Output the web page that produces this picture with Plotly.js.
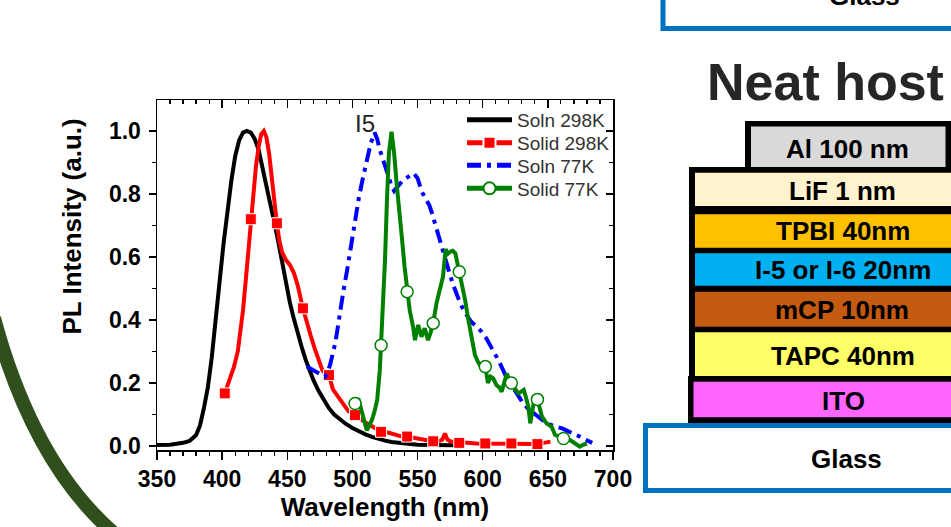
<!DOCTYPE html>
<html><head><meta charset="utf-8">
<script src="https://cdn.plot.ly/plotly-3.0.1.min.js"></script>
<style>html,body{margin:0;padding:0;background:#fff;}#chart{width:951px;height:527px;}</style>
</head><body><div id="chart"></div>
<script>
// ---------------- data ----------------
const solnRT_x = [350,360,370,375,380,383,386,389,392,395,398,401,404,407,410,413,416,419,422,425,428,431,434,437,440,443,446,449,452,455,458,461,464,467,470,474,478,482,486,490,495,500,505,510,515,520,525,530,540,550,560,570,580];
const solnRT_y = [0.003,0.004,0.010,0.016,0.035,0.065,0.12,0.185,0.28,0.39,0.52,0.64,0.75,0.84,0.92,0.97,0.995,1.0,0.995,0.975,0.94,0.885,0.83,0.77,0.71,0.65,0.585,0.515,0.455,0.405,0.355,0.315,0.275,0.24,0.21,0.175,0.145,0.12,0.1,0.085,0.07,0.057,0.046,0.037,0.029,0.022,0.017,0.013,0.007,0.004,0.003,0.002,0.002];

const solidRT_x = [402,406,409,412,414,416,418,420,422,424,426,428,430,432,434,436,438,440,442,444,446,449,452,455,458,462,465,468,471,474,477,480,482,485,489,493,497,502,506,511,516,522,528,534,538,542,547,552,557,562,566,569,571,573,575,578,582,588,595,602,608,615,622,628,635,642,647,652];
const solidRT_y = [0.167,0.21,0.25,0.30,0.36,0.43,0.52,0.62,0.72,0.81,0.89,0.95,0.99,1.0,0.98,0.93,0.85,0.76,0.707,0.65,0.615,0.59,0.575,0.55,0.51,0.437,0.39,0.35,0.31,0.275,0.24,0.228,0.225,0.18,0.155,0.135,0.11,0.098,0.085,0.072,0.06,0.045,0.042,0.035,0.03,0.03,0.025,0.02,0.018,0.015,0.015,0.02,0.04,0.02,0.015,0.012,0.01,0.01,0.008,0.008,0.007,0.007,0.008,0.006,0.006,0.006,0.01,0.014];
const solidRT_markerX = [402,422,442,462,482,502,522,542,562,582,602,622,642];

const soln77_x = [465,472,479,481,483,487,490,493,496,499,502,505,508,511,514,517,519,521,524,527,530,532,535,539,543,547,550,553,556,559,561,564,567,571,574,577,580,583,587,591,595,599,603,606,609,612,615,618,622,626,631,635,639,644,649,655,661,665,670,674,677,681,684];
const soln77_y = [0.252,0.235,0.22,0.235,0.26,0.33,0.42,0.49,0.56,0.64,0.71,0.79,0.85,0.90,0.96,0.995,0.975,0.94,0.905,0.865,0.825,0.81,0.825,0.845,0.855,0.866,0.85,0.81,0.785,0.765,0.74,0.70,0.66,0.606,0.556,0.515,0.485,0.45,0.42,0.395,0.38,0.363,0.34,0.32,0.295,0.273,0.245,0.22,0.195,0.167,0.135,0.118,0.104,0.088,0.072,0.063,0.056,0.048,0.04,0.031,0.024,0.015,0.01];

const solid77_x = [502,504.5,506.5,508.5,511,513,515,517,519,521,522,523.7,525,526.5,528,530,532,534,536,538,540,542,544,546.5,548,550.5,553,555.5,558,560,562,564.5,567,569.5,571.5,573,575,577,579,582,584,586.5,589,591.5,594,596,598,602,604,606,608,610.5,613,614.5,616.5,618.5,620,622,625,627.5,630,631.5,633.5,635,636.5,638,639.5,642,644,645.5,649,653,655.5,659,662,667,671,674.5,677,680];
const solid77_y = [0.135,0.151,0.12,0.093,0.05,0.065,0.083,0.11,0.146,0.24,0.32,0.485,0.59,0.78,0.93,0.998,0.93,0.83,0.73,0.66,0.57,0.49,0.43,0.38,0.336,0.384,0.347,0.374,0.336,0.36,0.39,0.453,0.495,0.537,0.625,0.61,0.617,0.62,0.612,0.553,0.51,0.463,0.40,0.336,0.29,0.27,0.255,0.252,0.2,0.22,0.215,0.194,0.185,0.172,0.2,0.23,0.215,0.2,0.18,0.167,0.175,0.178,0.15,0.125,0.072,0.12,0.146,0.148,0.12,0.093,0.072,0.061,0.035,0.03,0.024,0.019,0.008,-0.002,0.004,0.008];
const solid77_markerX = [502,522,542,562,582,602,622,642,662];

const seriesNames = ['Soln 298K','Solid 298K','Soln 77K','Solid 77K'];
const xTitle = 'Wavelength (nm)';
const yTitle = 'PL Intensity (a.u.)';
const peakLabel = 'I5';
const headline = 'Neat host';
const stackLabels = ['Al 100 nm','LiF 1 nm','TPBI 40nm','I-5 or I-6 20nm','mCP 10nm','TAPC 40nm','ITO'];
const glassLabel = 'Glass';

// ---------------- layout helpers ----------------
const FONT = 'Arial, "Liberation Sans", Helvetica, sans-serif';
const L = 157, R = 613, T = 100, B = 450;
const PX = px => (px - L) / (R - L);
const PY = py => (B - py) / (B - T);

const markerSizes = (xs, list, s) => xs.map(v => list.includes(v) ? s : 0);

const traces = [
  {x: solnRT_x, y: solnRT_y, name: seriesNames[0], mode: 'lines', legend: 'legend',
   line: {color: '#000000', width: 4}},
  {x: solidRT_x, y: solidRT_y, name: seriesNames[1], mode: 'lines+markers', legend: 'legend2',
   line: {color: '#ff0000', width: 4},
   marker: {symbol: 'square', color: '#ff0000', opacity: 1, size: markerSizes(solidRT_x, solidRT_markerX, 11)}},
  {x: soln77_x, y: soln77_y, name: seriesNames[2], mode: 'lines', legend: 'legend3',
   line: {color: '#0000ff', width: 4, dash: '14px,6px,4px,6px'}},
  {x: solid77_x, y: solid77_y, name: seriesNames[3], mode: 'lines+markers', legend: 'legend4',
   line: {color: '#008000', width: 4},
   marker: {symbol: 'circle', color: '#ffffff', opacity: 1, size: markerSizes(solid77_x, solid77_markerX, 12),
            line: {color: '#008000', width: 1.5}}},
  {x: [], y: [], xaxis: 'x2', yaxis: 'y2', showlegend: false, hoverinfo: 'skip'}
];

// legends, one per row
const rowsY = [120, 143, 165.5, 188.5];
function legendCfg(row) {
  return {x: PX(462), xanchor: 'left', y: PY(rowsY[row]), yanchor: 'middle',
          bgcolor: 'rgba(0,0,0,0)', borderwidth: 0, itemsizing: 'constant', itemwidth: 45,
          font: {family: FONT, size: 19, color: '#333333'}};
}

// shapes (decorative slide elements)
const shapes = [];
function rect(x0, y0, x1, y1, fill, lc, lw) {
  shapes.push({type: 'rect', xref: 'paper', yref: 'paper', layer: 'above',
    x0: PX(x0), x1: PX(x1), y0: PY(y1), y1: PY(y0), fillcolor: fill,
    line: lw ? {color: lc, width: lw} : {width: 0}});
}
shapes.push({type: 'path', xref: 'paper', yref: 'paper', layer: 'below',
  path: `M${PX(-6)},${PY(318)} Q${PX(35)},${PY(470)} ${PX(122)},${PY(540)}`,
  line: {color: '#2f4f1c', width: 14}});

const stackColors = ['#D9D9D9','#FFF2CC','#FFC000','#00B0F0','#C55A11','#FFFF66','#FF66FF'];
// pixel geometry of the device stack [x0, y0, y1, textX, textY]
const stackGeom = [
  [751, 126.5, 167, 847, 148.5],
  [695, 172.7, 206, 842, 191],
  [695, 214.3, 247.7, 843, 231],
  [695, 253.3, 285.7, 843, 269.5],
  [695, 291.7, 326.7, 842, 310],
  [695, 332.3, 376, 843, 355.5],
  [693.5, 381.7, 417.3, 843, 401]
];

rect(663, -80, 1200, 28.5, '#ffffff', '#0070C0', 5);          // upper glass
rect(645.5, 425.5, 1200, 490.5, '#ffffff', '#0070C0', 5);     // lower glass
rect(745, 121, 951.5, 173, '#000000');                         // Al frame
rect(689, 167, 1200, 423, '#000000');                          // stack frame
rect(688, 376, 700, 423, '#000000');                           // ITO frame
stackGeom.forEach((g, i) => {
  if (i === 0) rect(g[0], g[1], 945.5, g[2], stackColors[i]);
  else rect(g[0], g[1], 1200, g[2], stackColors[i]);
});

const annotations = [];
function txt(text, x, y, size, bold, color, extra) {
  annotations.push(Object.assign({xref: 'paper', yref: 'paper', x: PX(x), y: PY(y), text: text,
    showarrow: false, xanchor: 'center', yanchor: 'middle',
    font: {family: FONT, size: size, color: color || '#000', weight: bold ? 'bold' : 'normal'}}, extra || {}));
}
stackGeom.forEach((g, i) => txt(stackLabels[i], g[3], g[4], 26, true));
txt(glassLabel, 846, 458.5, 26, true);
txt(glassLabel, 864, -4, 26, true);
txt(headline, 705, 82, 52, true, '#262626', {xanchor: 'left'});
txt(yTitle, 71, 226.5, 26, true, '#000', {textangle: -90});
annotations.push({xref: 'x', yref: 'y', x: 509.6, y: 1.025, text: peakLabel, showarrow: false,
  font: {family: FONT, size: 24, color: '#222'}});

const tickFont = {family: FONT, size: 23, color: '#000', weight: 'bold'};
const baseAxis = {showgrid: false, zeroline: false, showline: true, linecolor: '#000', linewidth: 1.5,
  tickcolor: '#000', tickwidth: 1.5, fixedrange: true};

const layout = {
  width: 951, height: 527,
  margin: {l: L, r: 951 - R, t: T, b: 527 - B, pad: 0},
  paper_bgcolor: '#ffffff', plot_bgcolor: 'rgba(0,0,0,0)',
  showlegend: true,
  legend: legendCfg(0), legend2: legendCfg(1), legend3: legendCfg(2), legend4: legendCfg(3),
  xaxis: Object.assign({}, baseAxis, {range: [350, 700], tick0: 350, dtick: 50, ticks: 'outside', ticklen: 8,
    minor: {dtick: 10, tick0: 350, ticks: 'outside', ticklen: 4, tickwidth: 1.2, tickcolor: '#000', showgrid: false},
    tickfont: tickFont,
    title: {text: xTitle, font: {family: FONT, size: 26, color: '#000', weight: 'bold'}, standoff: 6}}),
  yaxis: Object.assign({}, baseAxis, {range: [-0.0127, 1.0984], tick0: 0, dtick: 0.2, tickformat: '.1f',
    ticks: 'outside', ticklen: 7, ticklabelstandoff: 3,
    minor: {dtick: 0.1, tick0: 0, ticks: 'outside', ticklen: 4, tickwidth: 1.2, tickcolor: '#000', showgrid: false},
    tickfont: tickFont}),
  xaxis2: Object.assign({}, baseAxis, {overlaying: 'x', anchor: 'y', side: 'top', range: [350, 700],
    tick0: 350, dtick: 50, ticks: 'inside', ticklen: 8, showticklabels: false,
    minor: {dtick: 10, tick0: 350, ticks: 'inside', ticklen: 4, tickwidth: 1.2, tickcolor: '#000', showgrid: false}}),
  yaxis2: Object.assign({}, baseAxis, {overlaying: 'y', anchor: 'x', side: 'right', range: [-0.0127, 1.0984],
    tick0: 0, dtick: 0.2, ticks: 'inside', ticklen: 7, showticklabels: false,
    minor: {dtick: 0.1, tick0: 0, ticks: 'inside', ticklen: 4, tickwidth: 1.2, tickcolor: '#000', showgrid: false}}),
  shapes: shapes,
  annotations: annotations
};

Plotly.newPlot('chart', traces, layout, {displayModeBar: false, staticPlot: true});
</script>
</body></html>
